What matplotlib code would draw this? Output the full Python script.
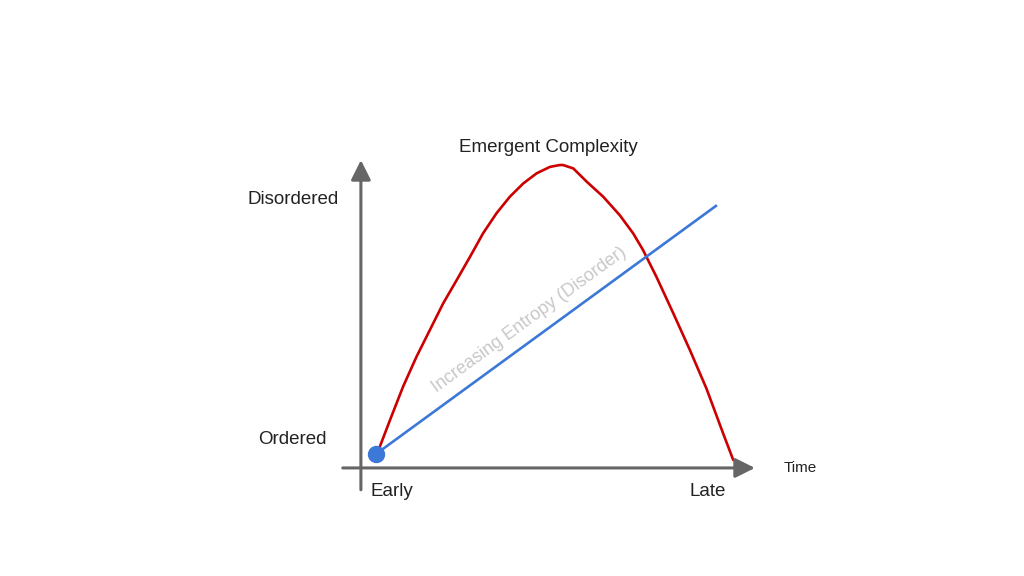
import matplotlib.pyplot as plt

plt.rcParams['font.family'] = ['Liberation Sans', 'DejaVu Sans']

# time (0..100) vs level (0..100)
complexity_t = [3.8, 4.8, 7.4, 10.7, 14.1, 17.5, 20.9, 24.3, 27.7, 31.0, 34.4,
                37.8, 41.2, 44.6, 48.0, 50.5, 51.3, 53.9, 57.3, 61.5, 65.7,
                69.1, 71.6, 75.0, 79.3, 83.5, 87.7, 92.0, 94.5]
complexity_l = [4.5, 6.9, 15.6, 26.4, 36.1, 44.8, 53.5, 61.0, 68.6, 76.2, 82.7,
                88.1, 92.4, 95.7, 97.8, 98.4, 98.4, 97.3, 93.0, 88.1, 82.1,
                76.2, 70.8, 62.1, 50.2, 38.3, 25.8, 11.0, 2.6]
entropy_t = [3.8, 90.1]
entropy_l = [4.5, 85.1]

y_labels = ['Ordered', 'Disordered']
y_label_pos = [9.1, 87.3]
x_labels = ['Early', 'Late']
x_label_pos = [7.9, 88.1]

axis_col = '#666666'
red = '#cc0000'
blue = '#3c78d8'

fig = plt.figure(figsize=(10.24, 5.76), dpi=100)
ax = fig.add_axes([0, 0, 1, 1])
ax.set_xlim(-91.6, 168.3)
ax.set_ylim(-35.1, 152.0)
ax.axis('off')

# axes with arrow heads
arrow = dict(arrowstyle='-|>,head_length=0.6,head_width=0.3', color=axis_col,
             lw=2.2, mutation_scale=20, shrinkA=0, shrinkB=0)
ax.annotate('', xy=(100, 0), xytext=(-4.6, 0), arrowprops=arrow)
ax.annotate('', xy=(0, 100), xytext=(0, -7.1), arrowprops=arrow)

ax.plot(complexity_t, complexity_l, color=red, lw=1.9,
        solid_capstyle='round', solid_joinstyle='round')
ax.plot(entropy_t, entropy_l, color=blue, lw=1.9)
ax.plot(entropy_t[0], entropy_l[0], 'o', color=blue, ms=11.5)

ax.text(42.8, 48, 'Increasing Entropy (Disorder)', color='#c8c8c8',
        fontsize=13, rotation=36, ha='center', va='center')

ax.text(47.7, 104.2, 'Emergent Complexity', fontsize=13.5, color='#222222',
        ha='center', va='center')
for lab, pos in zip(y_labels, y_label_pos):
    ax.text(-17.3, pos, lab, fontsize=13.5, color='#222222', ha='center', va='center')
for lab, pos in zip(x_labels, x_label_pos):
    ax.text(pos, -7.8, lab, fontsize=13.5, color='#222222', ha='center', va='center')
ax.text(111.4, 0, 'Time', fontsize=11, color='#222222', ha='center', va='center')

fig.savefig('out.png', dpi=100)
